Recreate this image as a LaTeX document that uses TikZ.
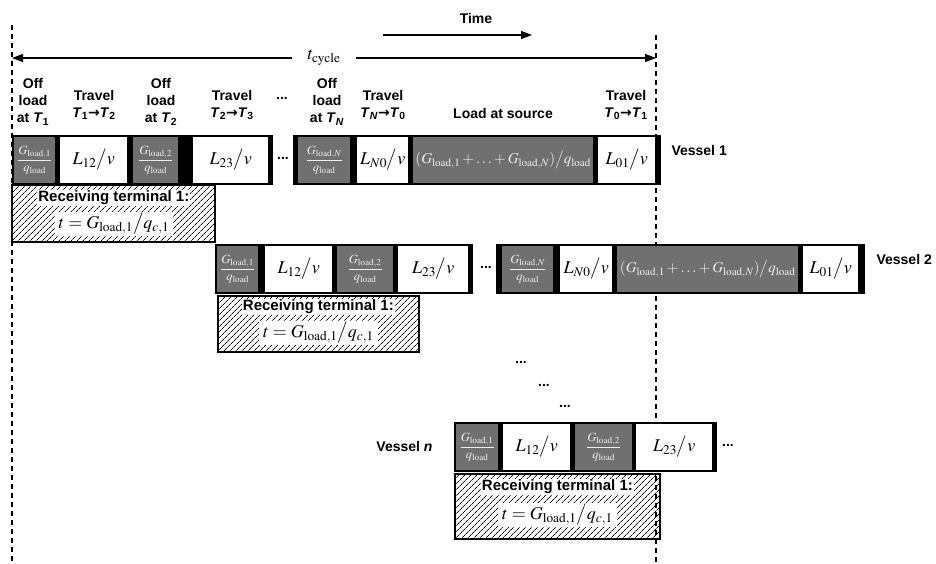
\documentclass[tikz,border=0pt]{standalone}
\usepackage{mathptmx}
\usepackage{fontspec}
\setmainfont{Liberation Sans}
\newfontfamily\arrfont{DejaVu Sans}
\usetikzlibrary{arrows.meta,positioning,patterns.meta}
\definecolor{LoadFill}{HTML}{707070}
\definecolor{LoadText}{HTML}{EEEEEE}
\newcommand{\Gload}[1]{G_{\mathrm{load},#1}}
\newcommand{\qload}{q_{\mathrm{load}}}
\newcommand{\offfrac}[1]{$\displaystyle\frac{\Gload{#1}}{\qload}$}
\newcommand{\trav}[1]{$L_{#1}\big/v$}
\newcommand{\srcload}{{\fontsize{15}{18}\selectfont$(\Gload{1}+\ldots+\Gload{N})\big/\qload$}}
\newcommand{\recvt}{$t=\Gload{1}\big/q_{c,1}$}
\newcommand{\Tsub}[1]{\textit{T}\textsubscript{#1}}
\newcommand{\tto}{{\arrfont\bfseries →}}
\tikzset{>={Triangle[length=11pt,width=8pt]},every node/.style={font=\fontsize{14}{17}\selectfont\bfseries},
 rowbar/.style={fill=black,minimum height=50pt,inner sep=0pt,anchor=west},
 offcell/.style={fill=LoadFill,text=LoadText,minimum height=46pt,inner sep=0pt,anchor=west,
 font=\fontsize{12.5}{14}\selectfont},
 travcell/.style={fill=white,minimum height=46pt,inner sep=0pt,anchor=west,font=\fontsize{18}{20}\selectfont},
 recvbox/.style={draw=black,line width=1.8pt,pattern={Lines[angle=45,distance=4pt,line width=0.7pt]},
 anchor=north west,inner sep=0pt},
 recvtext/.style={fill=white,inner sep=1pt,font=\fontsize{15}{17}\selectfont\bfseries},
 recvmath/.style={fill=white,inner xsep=4pt,inner ysep=1pt,font=\fontsize{18}{20}\selectfont},
 head/.style={align=center},
 cut/.style={line width=1.1pt,dash pattern=on 5pt off 4pt}}
\begin{document}
\begin{tikzpicture}[x=1pt,y=-1pt]
\useasboundingbox (0,0) rectangle (936,563);
% limits of one cycle
\coordinate (cutlt) at (12,25); \coordinate (cutlb) at (12,563);
\coordinate (cutrt) at (656,35); \coordinate (cutrb) at (656,563);
\draw[cut] (cutlt) -- (cutlb);
\draw[cut] (cutrt) -- (cutrb);
% time axis and cycle length
\node (time) at (476,18) {Time};
\coordinate (timea) at (383,35); \coordinate (timeb) at (532,35);
\draw[->,line width=1.1pt] (timea) -- (timeb);
\node[font=\fontsize{18}{20}\selectfont,inner xsep=15pt] (tcyc) at (324,58) {$t_{\mathrm{cycle}}$};
\coordinate (cycl) at (12,58); \coordinate (cycr) at (656,58);
\draw[->,line width=1.1pt] (tcyc) -- (cycl);
\draw[->,line width=1.1pt] (tcyc) -- (cycr);
% phase headings
\foreach \x/\y/\t [count=\i] in {33/102/{Off\\load\\at \Tsub{1}},94/105/{Travel\\\Tsub{1}\tto\Tsub{2}},
 161/102/{Off\\load\\at \Tsub{2}},232/105/{Travel\\\Tsub{2}\tto\Tsub{3}},327/102/{Off\\load\\at \Tsub{\textit{N}}},
 383/105/{Travel\\\Tsub{\textit{N}}\tto\Tsub{0}},503/113/{Load at source},626/105/{Travel\\\Tsub{0}\tto\Tsub{1}}}
 {\node[head] (hd\i) at (\x,\y) {\t};}
\node (hddots) at (282,98) {...};
% vessel 1
\node[rowbar,minimum width=261] (v1a) at (12,160) {};
\node[rowbar,minimum width=368] (v1b) at (293,160) {};
\foreach \x/\w/\s/\t [count=\i] in {14/41/offcell/\offfrac{1},60/67/travcell/\trav{12},133/45/offcell/\offfrac{2},
 193/75/travcell/\trav{23},298/52/offcell/\offfrac{N},357/51/travcell/\trav{N0},413/180/offcell/\srcload,
 598/57/travcell/\trav{01}}
 {\node[\s,minimum width=\w] (v1c\i) at (\x,160) {\t};}
\node (v1d) at (283,158) {...};
\node[anchor=west] (v1l) at (668,150) {Vessel 1};
\node[recvbox,minimum width=203,minimum height=57] (rb1) at (12,185) {};
\node[recvtext] (rt1) at ([yshift=-13pt]rb1.north) {Receiving terminal 1:};
\node[recvmath] (rm1) at ([yshift=-39pt]rb1.north) {\recvt};
% vessel 2
\node[rowbar,minimum width=258] (v2a) at (215,269) {};
\node[rowbar,minimum width=369] (v2b) at (496,269) {};
\foreach \x/\w/\s/\t [count=\i] in {217/41/offcell/\offfrac{1},265/67/travcell/\trav{12},337/56/offcell/\offfrac{2},
 398/70/travcell/\trav{23},502/51/offcell/\offfrac{N},560/52/travcell/\trav{N0},617/181/offcell/\srcload,
 803/55/travcell/\trav{01}}
 {\node[\s,minimum width=\w] (v2c\i) at (\x,269) {\t};}
\node (v2d) at (486,267) {...};
\node[anchor=west] (v2l) at (873,259) {Vessel 2};
\node[recvbox,minimum width=201,minimum height=56] (rb2) at (217,295) {};
\node[recvtext] (rt2) at ([yshift=-12pt]rb2.north) {Receiving terminal 1:};
\node[recvmath] (rm2) at ([yshift=-38pt]rb2.north) {\recvt};
% further vessels
\node (vdots1) at (521,362) {...};
\node (vdots2) at (544,385) {...};
\node (vdots3) at (565,406) {...};
% vessel n
\node[rowbar,minimum width=263] (vna) at (454,447) {};
\foreach \x/\w/\s/\t [count=\i] in {456/42/offcell/\offfrac{1},503/67/travcell/\trav{12},575/57/offcell/\offfrac{2},
 636/76/travcell/\trav{23}}
 {\node[\s,minimum width=\w] (vnc\i) at (\x,447) {\t};}
\node (vnd) at (728,445) {...};
\node[anchor=east] (vnl) at (436,446) {Vessel \textit{n}};
\node[recvbox,minimum width=205,minimum height=65] (rbn) at (454,473) {};
\node[recvtext] (rtn) at ([yshift=-14pt]rbn.north) {Receiving terminal 1:};
\node[recvmath] (rmn) at ([yshift=-42pt]rbn.north) {\recvt};
\end{tikzpicture}
\end{document}
